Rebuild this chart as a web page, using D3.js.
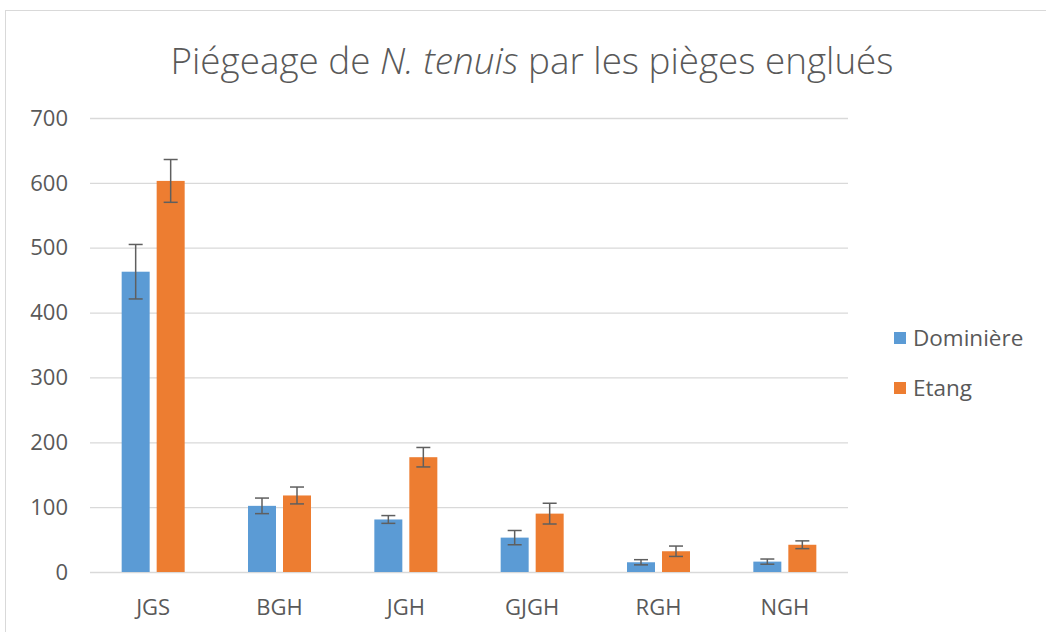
<script src="https://d3js.org/d3.v7.min.js"></script>
<style>
  body { margin: 0; background: #fff; }
  svg text { font-family: "Open Sans", sans-serif; fill: #595959; }
</style>
<body>
<script>
  var categories = ["JGS", "BGH", "JGH", "GJGH", "RGH", "NGH"];
  var series = ["Dominière", "Etang"];
  var dominiere = [463, 102, 81, 53, 15, 16];
  var dominiereErr = [42, 12, 6, 11, 4, 4];
  var etang = [603, 118, 177, 90, 32, 42];
  var etangErr = [33, 13, 15, 16, 8, 6];
  var yTicks = [0, 100, 200, 300, 400, 500, 600, 700];
  var colors = ["#5b9bd5", "#ed7d31"];

  var width = 1046, height = 632;
  var plotL = 90, plotR = 848, plotT = 118, plotB = 572;

  var svg = d3.select("body").append("svg")
    .attr("width", width)
    .attr("height", height);

  // chart frame (only left/top visible)
  svg.append("rect")
    .attr("x", 5.5).attr("y", 10.5)
    .attr("width", 1100).attr("height", 700)
    .attr("fill", "none")
    .attr("stroke", "#d9d9d9");

  var y = d3.scaleLinear().domain([0, 700]).range([plotB, plotT]);
  var x0 = d3.scaleBand().domain(categories).range([plotL, plotR]);
  var groupW = 63;
  var x1 = d3.scaleBand().domain(series).range([0, groupW]).paddingInner(0.2);

  // gridlines
  svg.append("g").selectAll("line")
    .data(yTicks)
    .enter().append("line")
    .attr("x1", plotL).attr("x2", plotR)
    .attr("y1", function(d) { return y(d) + 0.5; })
    .attr("y2", function(d) { return y(d) + 0.5; })
    .attr("stroke", "#d9d9d9")
    .attr("stroke-width", 1.3);

  // y labels
  svg.append("g").selectAll("text")
    .data(yTicks)
    .enter().append("text")
    .attr("x", 68)
    .attr("y", function(d) { return y(d); })
    .attr("dy", "0.35em")
    .attr("text-anchor", "end")
    .style("font-size", "22px")
    .text(function(d) { return d; });

  // x labels
  svg.append("g").selectAll("text")
    .data(categories)
    .enter().append("text")
    .attr("x", function(d) { return x0(d) + x0.bandwidth() / 2; })
    .attr("y", 607)
    .attr("dy", "0.35em")
    .attr("text-anchor", "middle")
    .style("font-size", "22px")
    .text(function(d) { return d; });

  var data = [
    { name: series[0], values: dominiere, errs: dominiereErr, color: colors[0] },
    { name: series[1], values: etang, errs: etangErr, color: colors[1] }
  ];

  var off = (x0.bandwidth() - groupW) / 2;

  data.forEach(function(s) {
    var g = svg.append("g");
    g.selectAll("rect")
      .data(s.values)
      .enter().append("rect")
      .attr("x", function(d, i) { return x0(categories[i]) + off + x1(s.name); })
      .attr("y", function(d) { return y(d); })
      .attr("width", x1.bandwidth())
      .attr("height", function(d) { return y(0) - y(d); })
      .attr("fill", s.color);

    var eb = svg.append("g")
      .attr("stroke", "#5f5f5f")
      .attr("stroke-width", 1.5);
    s.values.forEach(function(d, i) {
      var cx = x0(categories[i]) + off + x1(s.name) + x1.bandwidth() / 2;
      var hi = y(d + s.errs[i]), lo = y(d - s.errs[i]);
      eb.append("line").attr("x1", cx).attr("x2", cx).attr("y1", hi).attr("y2", lo);
      eb.append("line").attr("x1", cx - 7).attr("x2", cx + 7).attr("y1", hi).attr("y2", hi);
      eb.append("line").attr("x1", cx - 7).attr("x2", cx + 7).attr("y1", lo).attr("y2", lo);
    });
  });

  // title
  var title = svg.append("text")
    .attr("x", 532)
    .attr("y", 74)
    .attr("text-anchor", "middle")
    .style("font-size", "36.8px")
    .style("font-weight", 300);
  title.append("tspan").text("Piégeage de ");
  title.append("tspan").style("font-style", "italic").text("N. tenuis");
  title.append("tspan").text(" par les pièges englués");

  // legend
  var leg = svg.append("g").selectAll("g")
    .data(series)
    .enter().append("g")
    .attr("transform", function(d, i) { return "translate(894," + (332 + i * 50) + ")"; });
  leg.append("rect")
    .attr("width", 12).attr("height", 12)
    .attr("fill", function(d, i) { return colors[i]; });
  leg.append("text")
    .attr("x", 19).attr("y", 6)
    .attr("dy", "0.35em")
    .style("font-size", "22.5px")
    .text(function(d) { return d; });
</script>
</body>
